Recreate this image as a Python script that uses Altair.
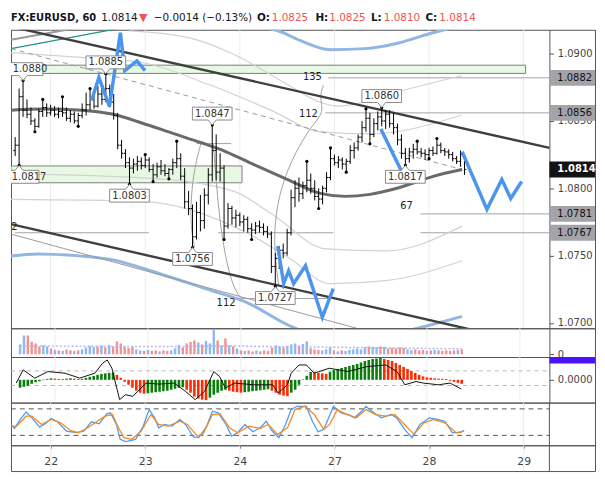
import altair as alt
import numpy as np
import pandas as pd

FONT = "DejaVu Sans"

# ------------------------------------------------------------------ data
hours = list(range(-9, 106))
opens = [1.0828, 1.0832, 1.0868, 1.0858, 1.0855, 1.0850, 1.0846, 1.0857, 1.0860,
         1.0856, 1.0858, 1.0855, 1.0857, 1.0856, 1.0852, 1.0855, 1.0850, 1.0854, 1.0858,
         1.0862, 1.0866, 1.0861, 1.0870, 1.0866, 1.0874, 1.0864, 1.0854, 1.0832, 1.0826,
         1.0819, 1.0815, 1.0818, 1.0820, 1.0817, 1.0821, 1.0814, 1.0810, 1.0816, 1.0813,
         1.0811, 1.0814, 1.0819, 1.0822, 1.0809, 1.0790, 1.0785, 1.0764, 1.0782, 1.0776,
         1.0795, 1.0810, 1.0828, 1.0812, 1.0815, 1.0772, 1.0785, 1.0778, 1.0780, 1.0775,
         1.0777, 1.0770, 1.0769, 1.0772, 1.0771, 1.0768, 1.0766, 1.0742, 1.0748, 1.0754,
         1.0752, 1.0767, 1.0793, 1.0800, 1.0796, 1.0802, 1.0806, 1.0800, 1.0794, 1.0792,
         1.0800, 1.0808, 1.0822, 1.0819, 1.0821, 1.0818, 1.0820, 1.0828, 1.0830, 1.0838,
         1.0845, 1.0852, 1.0840, 1.0848, 1.0853, 1.0850, 1.0855, 1.0848, 1.0845, 1.0836,
         1.0826, 1.0822, 1.0827, 1.0829, 1.0827, 1.0826, 1.0825, 1.0828, 1.0826, 1.0832,
         1.0828, 1.0827, 1.0825, 1.0822, 1.0820, 1.0825]
highs = [1.0838, 1.0874, 1.0880, 1.0866, 1.0860, 1.0852, 1.0859, 1.0866, 1.0863,
         1.0862, 1.0861, 1.0860, 1.0868, 1.0860, 1.0858, 1.0857, 1.0856, 1.0863, 1.0871,
         1.0874, 1.0872, 1.0876, 1.0878, 1.0885, 1.0877, 1.0870, 1.0856, 1.0836, 1.0829,
         1.0823, 1.0822, 1.0824, 1.0823, 1.0825, 1.0823, 1.0818, 1.0819, 1.0821, 1.0818,
         1.0815, 1.0822, 1.0835, 1.0826, 1.0815, 1.0798, 1.0788, 1.0790, 1.0795, 1.0800,
         1.0815, 1.0847, 1.0840, 1.0826, 1.0817, 1.0789, 1.0787, 1.0784, 1.0782, 1.0780,
         1.0779, 1.0774, 1.0775, 1.0776, 1.0774, 1.0772, 1.0768, 1.0752, 1.0757, 1.0759,
         1.0770, 1.0799, 1.0806, 1.0808, 1.0805, 1.0820, 1.0811, 1.0806, 1.0800, 1.0802,
         1.0812, 1.0830, 1.0825, 1.0824, 1.0823, 1.0822, 1.0832, 1.0834, 1.0840, 1.0850,
         1.0859, 1.0856, 1.0852, 1.0857, 1.0860, 1.0858, 1.0858, 1.0856, 1.0848, 1.0840,
         1.0830, 1.0830, 1.0833, 1.0835, 1.0830, 1.0829, 1.0830, 1.0831, 1.0837, 1.0834,
         1.0830, 1.0829, 1.0827, 1.0824, 1.0828, 1.0825]
lows = [1.0824, 1.0817, 1.0853, 1.0852, 1.0847, 1.0842, 1.0845, 1.0853, 1.0853,
        1.0854, 1.0853, 1.0852, 1.0853, 1.0850, 1.0849, 1.0848, 1.0846, 1.0852, 1.0854,
        1.0858, 1.0859, 1.0860, 1.0862, 1.0864, 1.0860, 1.0851, 1.0829, 1.0822, 1.0815,
        1.0803, 1.0811, 1.0813, 1.0814, 1.0815, 1.0812, 1.0805, 1.0808, 1.0810, 1.0809,
        1.0807, 1.0810, 1.0815, 1.0806, 1.0785, 1.0780, 1.0756, 1.0762, 1.0768, 1.0770,
        1.0788, 1.0805, 1.0806, 1.0805, 1.0762, 1.0770, 1.0773, 1.0771, 1.0772, 1.0768,
        1.0767, 1.0762, 1.0766, 1.0767, 1.0765, 1.0763, 1.0737, 1.0727, 1.0740, 1.0748,
        1.0750, 1.0765, 1.0786, 1.0790, 1.0792, 1.0797, 1.0796, 1.0791, 1.0785, 1.0788,
        1.0797, 1.0806, 1.0817, 1.0815, 1.0814, 1.0812, 1.0818, 1.0822, 1.0828, 1.0834,
        1.0842, 1.0833, 1.0838, 1.0843, 1.0846, 1.0844, 1.0845, 1.0840, 1.0832, 1.0822,
        1.0817, 1.0819, 1.0822, 1.0825, 1.0823, 1.0821, 1.0822, 1.0824, 1.0825, 1.0826,
        1.0824, 1.0822, 1.0820, 1.0818, 1.0816, 1.0810]
closes = [1.0832, 1.0868, 1.0858, 1.0855, 1.0850, 1.0846, 1.0857, 1.0860, 1.0856,
          1.0858, 1.0855, 1.0857, 1.0856, 1.0852, 1.0855, 1.0850, 1.0854, 1.0858, 1.0862,
          1.0866, 1.0861, 1.0870, 1.0866, 1.0874, 1.0864, 1.0854, 1.0832, 1.0826, 1.0819,
          1.0815, 1.0818, 1.0820, 1.0817, 1.0821, 1.0814, 1.0810, 1.0816, 1.0813, 1.0811,
          1.0814, 1.0819, 1.0822, 1.0809, 1.0790, 1.0785, 1.0764, 1.0782, 1.0776, 1.0795,
          1.0810, 1.0828, 1.0812, 1.0815, 1.0772, 1.0785, 1.0778, 1.0780, 1.0775, 1.0777,
          1.0770, 1.0769, 1.0772, 1.0771, 1.0768, 1.0766, 1.0742, 1.0748, 1.0754, 1.0752,
          1.0767, 1.0793, 1.0800, 1.0796, 1.0802, 1.0806, 1.0800, 1.0794, 1.0792, 1.0800,
          1.0808, 1.0822, 1.0819, 1.0821, 1.0818, 1.0820, 1.0828, 1.0830, 1.0838, 1.0845,
          1.0852, 1.0840, 1.0848, 1.0853, 1.0850, 1.0855, 1.0848, 1.0845, 1.0836, 1.0826,
          1.0822, 1.0827, 1.0829, 1.0827, 1.0826, 1.0825, 1.0828, 1.0826, 1.0832, 1.0828,
          1.0827, 1.0825, 1.0822, 1.0820, 1.0825, 1.0814]
volume = [10, 19, 19, 12.7, 11, 8, 9, 8, 6,
          4.5, 4, 3.5, 5, 4, 3.5, 4, 5, 7, 8.5,
          7.5, 8, 9, 7, 9.5, 8, 13, 11, 8, 6.5,
          7.5, 5, 4, 3.5, 4.5, 3.5, 4, 3, 4, 3.5,
          4, 6, 9.5, 7, 11, 12.5, 14, 12, 10, 13.5,
          11, 25, 14, 9, 16, 9, 8, 6, 4, 3.5,
          4, 3, 4, 3, 4, 3.5, 7, 9, 8, 7,
          8.5, 10, 11, 9, 10.5, 13, 6, 5, 4.5, 4,
          5, 7, 4, 3, 4, 3.5, 4.5, 5, 6, 5,
          7, 8, 7.5, 7, 8, 7.5, 6, 6.5, 6, 7,
          6.5, 5, 4.5, 5, 4, 4.5, 3.5, 4, 4.5, 4,
          3.5, 4, 3.5, 4, 4.5, 5]
macd_hist = [-8, -7, -6, -4, -2.5, -1.5, -0.5, 0.8, 1.5,
             1.2, 1.0, 0.8, 1.2, 1.5, 1.2, 0.8, 1.0, 2, 3,
             4, 5, 6, 6.5, 7, 7.5, 5, 2, -2, -5,
             -8, -11, -13, -14, -13.5, -13, -12.5, -12, -11.5, -11,
             -10, -9, -8, -7.5, -10, -13, -17, -19, -20, -20.5,
             -18, -15, -13, -11, -10, -11, -12, -12.5, -13, -12.5,
             -12, -11.5, -11, -10.5, -10, -9.5, -11, -13, -15, -16,
             -16.5, -13, -10, -5, 0.5, 4, 8, 7.5, 7, 6.5,
             6, 8, 10, 11, 12, 13, 14, 15, 16, 17.5,
             19, 20, 21, 21.5, 22, 21, 20, 19, 17, 15,
             13, 11, 9, 7, 5, 3.5, 2.5, 2, 1.5, 1.2,
             1, 0.8, -1, -2, -3, -4]

day_h = [0, 24, 48, 72, 96, 120]
day_labels = ["22", "23", "24", "27", "28", "29"]

frac_high_h = [-7, -2, 3, 10, 14, 24, 32, 41, 65, 71, 80, 84, 93, 98]
frac_low_h = [-8, -4, 7, 20, 26, 30, 36, 44, 51, 57, 68, 75, 81, 90, 96]
label_high_h = [-7, 14, 41, 84]
label_low_h = [-8, 20, 36, 57, 90]

ma_h = [-10.06, -2.01, 8.05, 15.6, 23.14, 30.69, 38.24, 44.53, 51.57, 60.13, 68.43, 74.72, 81.01, 88.55, 96.86, 104.4]
ma_p = [1.08580, 1.08588, 1.08580, 1.08551, 1.08485, 1.08411, 1.08338, 1.08271, 1.08176,
        1.08065, 1.07962, 1.07940, 1.07955, 1.08006, 1.08087, 1.08139]

band_up2_h = [19.87, 34.97, 46.54, 58.36, 68.43, 72.70, 89.43, 104.4]
band_up2_p = [1.09169, 1.09118, 1.08993, 1.08801, 1.08639, 1.08610, 1.08728, 1.08838]
band_up1_h = [-10.06, 4.78, 23.14, 40.0, 55.85, 68.43, 81.01, 104.4]
band_up1_p = [1.09007, 1.08978, 1.08934, 1.08772, 1.08580, 1.08419, 1.08404, 1.08544]
band_lo1_h = [-10.06, 25.66, 46.54, 55.85, 69.94, 85.03, 104.4]
band_lo1_p = [1.08109, 1.08073, 1.07977, 1.07815, 1.07550, 1.07535, 1.07719]
band_lo2_h = [-10.06, 23.14, 49.81, 60.88, 70.94, 85.03, 104.4]
band_lo2_p = [1.07918, 1.07903, 1.07668, 1.07476, 1.07292, 1.07314, 1.07462]

blue_top_h = [53.84, 58.36, 63.40, 70.94, 79.75, 88.55, 96.10, 103.14]
blue_top_p = [1.09199, 1.09162, 1.09096, 1.09029, 1.09037, 1.09081, 1.09147, 1.09199]
blue_bot_h = [-10.06, -3.27, 14.34, 27.67, 39.25, 49.81, 60.38, 63.40]
blue_bot_p = [1.07498, 1.07513, 1.07476, 1.07366, 1.07255, 1.07152, 1.06983, 1.06946]
blue_bot2_h = [91.07, 96.10, 104.4]
blue_bot2_p = [1.06946, 1.06983, 1.07049]

zig1_h = [10.39, 12.24, 14.92, 17.69, 18.80, 21.89, 23.97]
zig1_p = [1.08652, 1.08823, 1.08608, 1.09155, 1.08873, 1.08946, 1.08873]
zig2_h = [57.61, 59.12, 60.38, 61.64, 64.65, 68.93, 71.70]
zig2_p = [1.07572, 1.07292, 1.07388, 1.07292, 1.07425, 1.07042, 1.07255]
zig3_h = [83.77, 89.06]
zig3_p = [1.08441, 1.08124]
zig4_h = [104.4, 110.69, 114.47, 116.73, 119.50]
zig4_p = [1.08271, 1.07844, 1.08065, 1.07925, 1.08050]

upper_h = [-10.06, 126.54]
upper_p = [1.09200, 1.08300]
lower_h = [-10.06, 106.2]
lower_p = [1.07734, 1.06954]
thinlow_h = [-10.06, 78.5]
thinlow_p = [1.07660, 1.06954]
dash_h = [-10.06, 104.4]
dash_p = [1.09037, 1.08139]
tlgray_h = [-10.06, 6.79]
tlgray_p = [1.09103, 1.09191]
teal_h = [-10.06, 18.1]
teal_p = [1.09037, 1.09191]

arcA_h = [38.24, 36.23, 35.47, 35.72, 36.48]
arcA_p = [1.08345, 1.08124, 1.07866, 1.07682, 1.07565]
arcB_h = [41.26, 42.01, 43.02, 44.78, 46.54, 48.30]
arcB_p = [1.08330, 1.08050, 1.07719, 1.07425, 1.07255, 1.07182]
arcC_h = [69.18, 68.18, 69.43, 66.42, 62.89, 60.13, 57.86, 56.60, 57.11, 57.86]
arcC_p = [1.08764, 1.08676, 1.08566, 1.08470, 1.08308, 1.08139, 1.07940, 1.07682, 1.07447, 1.07278]

level_p = [1.0882, 1.0856, 1.0781, 1.0767, 1.0767, 1.0767, 1.07182, 1.08332]
level_h1 = [70.44, 69.69, 93.84, -9.06, 42.5, 93.84, 48.30, 36.98]
level_h2 = [126.54, 126.54, 126.54, 24.9, 71.7, 126.54, 70.94, 45.79]

zone_h1 = [-10.06, -10.06]
zone_h2 = [120.5, 48.55]
zone_p1 = [1.08914, 1.08166]
zone_p2 = [1.08853, 1.08041]

ann_t = ["135", "112", "112", "67", "2"]
ann_h = [66.4, 65.4, 44.5, 90.3, -9.2]
ann_p = [1.08823, 1.08551, 1.07152, 1.07866, 1.07712]

price_ticks = [1.07, 1.075, 1.08, 1.085, 1.09]
axis_box_p = [1.0882, 1.0856, 1.0781, 1.0767]
last_price = 1.0814

vma_h = [-9, 5, 20, 35, 45, 55, 65, 80, 95, 105]
vma_v = [8.5, 8.2, 7.8, 8.0, 8.6, 7.8, 7.5, 6.8, 6.0, 5.5]

sig_h = [-10, -8.2, -5.2, -1.8, 2.6, 6.4, 10.3, 12.3, 13.5, 14.7, 16.7, 18.2, 20.1, 23.5,
         26.9, 30.8, 33.7, 36.2, 38.6, 41, 42.5, 44, 46.4, 51.3, 56.2, 57.6, 60, 61, 63,
         64.9, 66.9, 70.8, 75.6, 80.5, 85.4, 88.3, 90.3, 93.2, 95.1, 99, 102, 104.9]
sig_v = [-3.3, 10, 1.7, 8.3, 6.7, 1.7, 6.7, 16.7, 20, 11.7, -20, -15, -16.7, -3.3,
         -4.3, -3.3, -11.7, -20, -11.7, 8.3, 3.3, -8.3, -3.3, -5, -5, -13.3, -5, 6.7, 15,
         15, 6.7, 11.7, 8.3, 13.3, 15, 8.3, -5, -1.7, -3.3, -5, -3.3, -9.3]
macd_levels = [9, -5.7]
macd_box = [23, 16.5]

k_h = [-10, -9.15, -7.7, -6.2, -4.75, -2.8, -1.35, 0.1, 1.6, 4.0,
       6.45, 8.4, 10.35, 12.3, 14.25, 15.2, 16.7, 17.65, 19.1, 21.55,
       23.5, 25.0, 26.4, 27.4, 28.9, 30.8, 32.8, 34.2, 36.2, 37.6,
       39.6, 41.05, 42.5, 44.5, 45.9, 47.4, 49.3, 51.3, 53.2, 54.7,
       56.2, 57.9, 59.6, 61.0, 62.5, 64.9, 66.4, 67.85, 69.3, 71.75,
       73.7, 75.6, 77.1, 79.1, 80.0, 81.5, 83.9, 86.4, 87.8, 89.8,
       91.7, 93.7, 96.1, 98.1, 100.0, 101.9, 103.9, 104.9]
k_v = [44.7, 35.7, 56, 73, 59.7, 38.7, 46.2, 58.2, 52, 29.7,
       26, 29.7, 50.7, 46.2, 68.7, 71, 44.7, 11, 5.8, 11,
       41, 78.4, 59.7, 37.2, 44.7, 41, 56, 44.7, 16.3, 14.8,
       41, 74.7, 71, 44.7, 18.5, 26, 44.7, 28.2, 37.2, 52,
       29.7, 14.8, 44.7, 78.4, 85.9, 85.9, 52, 28.2, 33.5, 85.9,
       71, 67.2, 59.7, 76.2, 85.9, 74.7, 59.7, 67.2, 59.7, 33.5,
       14.8, 44.7, 59.7, 56, 52, 26, 26, 31.2]
d_h = [-10, -8.65, -6.2, -4.75, -2.3, 0.1, 2.55, 5.0, 6.95, 9.4,
       11.3, 13.8, 15.7, 17.2, 18.6, 20.6, 23.0, 25.45, 27.4, 29.8,
       32.8, 34.7, 37.2, 38.6, 41.05, 43.0, 45.4, 47.4, 50.3, 53.2,
       55.2, 57.6, 60.1, 62.0, 64.4, 66.9, 69.3, 70.8, 72.7, 75.2,
       77.6, 80.0, 82.5, 84.9, 87.3, 89.8, 92.2, 94.7, 97.1, 100.0,
       102.9, 104.9]
d_v = [41, 41, 63.4, 63.4, 44.7, 56, 48.5, 31.2, 26, 37.2,
       48.5, 63.4, 67.2, 37.2, 14.8, 11, 29.7, 67.2, 44.7, 41,
       52, 44.7, 18.5, 22.2, 67.2, 68.7, 37.2, 26, 41, 35.7,
       44.7, 22.2, 37.2, 78.4, 85.9, 67.2, 33.5, 44.7, 78.4, 67.2,
       59.7, 78.4, 67.2, 63.4, 67.2, 44.7, 22.2, 48.5, 56, 48.5,
       26, 29.7]
stoch_levels = [20, 80]

header_pieces = ["FX:EURUSD, 60", "1.0814", "\u25bc", "\u22120.0014 (\u22120.13%)",
                 "O:", "1.0825", "H:", "1.0825", "L:", "1.0810", "C:", "1.0814"]

# ------------------------------------------------------------------ layout / style
W = 589
X_DOMAIN = [-10.063, -10.063 + W / 3.975]
AX_X = 543  # pixel position of the price axis inside each panel
BOXW = W - AX_X
xs = alt.Scale(domain=X_DOMAIN, nice=False, zero=False)

header_x = [0, 91, 129, 144, 248, 263, 307, 321, 363, 376, 418, 432]
header_size = [10, 10.5, 11, 10.5, 10.5, 10.5, 10.5, 10.5, 10.5, 10.5, 10.5, 10.5]
header_col = ["#131722", "#131722", "#ef5350", "#131722", "#131722", "#ef5350",
              "#131722", "#ef5350", "#131722", "#ef5350", "#131722", "#ef5350"]
header_bold = [True, False, False, False, True, False, True, False, True, False, True, False]
edge_dx = {-7: 7, -8: 10}   # nudge for labels that touch the left frame


def X(field="h", axis=None):
    return alt.X(f"{field}:Q", scale=xs, axis=axis)


ys_main = alt.Scale(domain=[1.069610, 1.091767], nice=False, zero=False)
ax_main = alt.Axis(orient="right", offset=AX_X - W, values=price_ticks, format=".4f",
                   grid=False, domainColor="#555", tickColor="#555", tickSize=4,
                   labelColor="#444", labelFont=FONT, labelFontSize=10, labelPadding=4,
                   title=None, labelFlush=False, labelOverlap=False)


def YM(field):
    return alt.Y(f"{field}:Q", scale=ys_main, axis=ax_main)


def poly(hs, ps, sid):
    return pd.DataFrame({"h": hs, "p": ps, "i": list(range(len(hs))), "s": sid})


def pline(df, **kw):
    return alt.Chart(df).mark_line(clip=True, **kw).encode(x=X(), y=YM("p"), detail="s:N", order="i:Q")


bars = pd.DataFrame({"h": hours, "o": opens, "hi": highs, "lo": lows, "c": closes,
                     "vol": volume, "macd": macd_hist})
bars["hl"] = bars["h"] - 0.45
bars["hr"] = bars["h"] + 0.45
bars["z"] = 0.0
bars["dir"] = np.where(bars["c"] >= bars["o"], "up", "down")
bars["mdir"] = np.where(bars["macd"].diff().fillna(1) >= 0, "rise", "fall")

days_df = pd.DataFrame({"h": day_h, "lab": day_labels})
one_df = pd.DataFrame({"k": [0]})

# ---------------- main panel
L = []
L.append(alt.Chart(days_df).mark_rule(color="#ececec", strokeWidth=1, clip=True).encode(x=X()))
zones = pd.DataFrame({"h1": zone_h1, "h2": zone_h2, "p1": zone_p1, "p2": zone_p2})
L.append(alt.Chart(zones).mark_rect(fill="#e7f9e3", stroke="#7d7d7d", strokeWidth=1, clip=True).encode(
    x=X("h1"), x2="h2:Q", y=YM("p1"), y2="p2:Q"))
levels = pd.DataFrame({"h1": level_h1, "h2": level_h2, "p": level_p})
L.append(alt.Chart(levels).mark_rule(color="#a3a3a3", strokeWidth=1, clip=True).encode(
    x=X("h1"), x2="h2:Q", y=YM("p")))
bands = pd.concat([poly(band_up2_h, band_up2_p, "u2"), poly(band_up1_h, band_up1_p, "u1"),
                   poly(band_lo1_h, band_lo1_p, "l1"), poly(band_lo2_h, band_lo2_p, "l2")])
L.append(pline(bands, color="#d2d2d2", strokeWidth=1.2, interpolate="monotone"))
blues = pd.concat([poly(blue_top_h, blue_top_p, "bt"), poly(blue_bot_h, blue_bot_p, "bb"),
                   poly(blue_bot2_h, blue_bot2_p, "bb2")])
L.append(pline(blues, color="#93b5e2", strokeWidth=3, interpolate="monotone"))
arcs = pd.concat([poly(arcA_h, arcA_p, "a"), poly(arcB_h, arcB_p, "b"), poly(arcC_h, arcC_p, "c")])
L.append(pline(arcs, color="#a0a0a0", strokeWidth=1, interpolate="basis"))
L.append(pline(poly(dash_h, dash_p, "d"), color="#9a9a9a", strokeWidth=1, strokeDash=[5, 4]))
L.append(pline(poly(ma_h, ma_p, "ma"), color="#6a6a6a", strokeWidth=3, interpolate="monotone"))
L.append(pline(poly(tlgray_h, tlgray_p, "g"), color="#9a9a9a", strokeWidth=2))
L.append(pline(poly(teal_h, teal_p, "t"), color="#22958a", strokeWidth=1.3))
L.append(pline(poly(thinlow_h, thinlow_p, "tl"), color="#9a9a9a", strokeWidth=1))
trends = pd.concat([poly(upper_h, upper_p, "up"), poly(lower_h, lower_p, "lo")])
L.append(pline(trends, color="#3f3f3f", strokeWidth=2.4))
# OHLC bars
L.append(alt.Chart(bars).mark_rule(color="#000", strokeWidth=1, clip=True).encode(x=X(), y=YM("lo"), y2="hi:Q"))
L.append(alt.Chart(bars).mark_rule(color="#000", strokeWidth=1, clip=True).encode(x=X("hl"), x2="h:Q", y=YM("o")))
L.append(alt.Chart(bars).mark_rule(color="#000", strokeWidth=1, clip=True).encode(x=X("h"), x2="hr:Q", y=YM("c")))
fr_hi = bars[bars["h"].isin(frac_high_h)][["h", "hi"]].rename(columns={"hi": "p"})
fr_lo = bars[bars["h"].isin(frac_low_h)][["h", "lo"]].rename(columns={"lo": "p"})
L.append(alt.Chart(pd.concat([fr_hi, fr_lo])).mark_circle(size=10, color="#000", opacity=1, clip=True).encode(
    x=X(), y=YM("p")))
zigs = pd.concat([poly(zig1_h, zig1_p, "z1"), poly(zig2_h, zig2_p, "z2"),
                  poly(zig3_h, zig3_p, "z3"), poly(zig4_h, zig4_p, "z4")])
L.append(pline(zigs, color="#4c95ee", strokeWidth=3.5, strokeJoin="miter", strokeMiterLimit=4))
# extreme labels
BOX_HIGH = "M-1,-0.9L1,-0.9L1,-0.25L0.2,-0.25L0,0L-0.2,-0.25L-1,-0.25Z"
BOX_LOW = "M-1,0.9L1,0.9L1,0.25L0.2,0.25L0,0L-0.2,0.25L-1,0.25Z"
lab_hi = bars[bars["h"].isin(label_high_h)][["h", "hi"]].rename(columns={"hi": "p"})
lab_lo = bars[bars["h"].isin(label_low_h)][["h", "lo"]].rename(columns={"lo": "p"})
lab_hi["t"] = lab_hi["p"].map("{:.4f}".format)
lab_lo["t"] = lab_lo["p"].map("{:.4f}".format)
for df, shape, dy in [(lab_hi, BOX_HIGH, -11.5), (lab_lo, BOX_LOW, 11.5)]:
    L.append(alt.Chart(df).mark_point(shape=shape, size=1600, filled=True, fill="#ffffff",
                                      stroke="#8a8a8a", strokeWidth=1, opacity=1, clip=True).encode(
        x=X(), y=YM("p")))
    inner = df[~df["h"].isin(list(edge_dx))]
    L.append(alt.Chart(inner).mark_text(font=FONT, fontSize=10, color="#333", dy=dy,
                                        baseline="middle", clip=True).encode(x=X(), y=YM("p"), text="t:N"))
    for hv, ddx in edge_dx.items():
        edge = df[df["h"] == hv]
        if len(edge):
            L.append(alt.Chart(edge).mark_text(font=FONT, fontSize=10, color="#333", dy=dy, dx=ddx,
                                               baseline="middle", clip=True).encode(
                x=X(), y=YM("p"), text="t:N"))
ann = pd.DataFrame({"h": ann_h, "p": ann_p, "t": ann_t})
L.append(alt.Chart(ann).mark_text(font=FONT, fontSize=10, color="#222", baseline="middle", clip=True).encode(
    x=X(), y=YM("p"), text="t:N"))
# axis price boxes
AXBOX = "M-1,-0.348L1,-0.348L1,0.348L-1,0.348Z"
abox = pd.DataFrame({"p": axis_box_p})
abox["t"] = abox["p"].map("{:.4f}".format)
L.append(alt.Chart(abox).mark_point(shape=AXBOX, size=BOXW * BOXW, filled=True, fill="#a3a3a9",
                                    strokeWidth=0, opacity=1).encode(
    x=alt.value(AX_X + BOXW / 2), y=YM("p")))
L.append(alt.Chart(abox).mark_text(font=FONT, fontSize=10, color="#111", align="left",
                                   baseline="middle").encode(
    x=alt.value(AX_X + 8), y=YM("p"), text="t:N"))
lbox = pd.DataFrame({"p": [last_price]})
lbox["t"] = lbox["p"].map("{:.4f}".format)
L.append(alt.Chart(lbox).mark_point(shape=AXBOX, size=BOXW * BOXW, filled=True, fill="#131313",
                                    strokeWidth=0, opacity=1).encode(
    x=alt.value(AX_X + BOXW / 2), y=YM("p")))
L.append(alt.Chart(lbox).mark_text(font=FONT, fontSize=10, color="#fff", fontWeight="bold",
                                   align="left", baseline="middle").encode(
    x=alt.value(AX_X + 8), y=YM("p"), text="t:N"))
main = alt.layer(*L).properties(width=W, height=301)

# ---------------- volume panel
ys_vol = alt.Scale(domain=[-2.7, 26.3], nice=False, zero=False)
ax_vol = alt.Axis(orient="right", offset=AX_X - W, values=[0], format="d", grid=False,
                  domainColor="#555", tickColor="#555", tickSize=4, labelColor="#444",
                  labelFont=FONT, labelFontSize=10, labelPadding=4, title=None)
vol = alt.layer(
    alt.Chart(days_df).mark_rule(color="#ececec").encode(x=X()),
    alt.Chart(bars).mark_bar(size=2.4).encode(
        x=X(), y=alt.Y("vol:Q", scale=ys_vol, axis=ax_vol), y2="z:Q",
        color=alt.Color("dir:N", scale=alt.Scale(domain=["up", "down"], range=["#8cb9f2", "#f2918d"]),
                        legend=None)),
    alt.Chart(poly(vma_h, vma_v, "v")).mark_line(color="#b6b6f2", strokeWidth=1.5, strokeDash=[2, 2]).encode(
        x=X(), y=alt.Y("p:Q", scale=ys_vol, axis=ax_vol), order="i:Q"),
).properties(width=W, height=29)

# ---------------- MACD panel
ys_m = alt.Scale(domain=[-23, 23], nice=False, zero=False)
ax_m = alt.Axis(orient="right", offset=AX_X - W, values=[0], format=".4f", grid=False,
                domainColor="#555", tickColor="#555", tickSize=4, labelColor="#444",
                labelFont=FONT, labelFontSize=10, labelPadding=4, title=None)
macd = alt.layer(
    alt.Chart(days_df).mark_rule(color="#ececec").encode(x=X()),
    alt.Chart(pd.DataFrame({"v": macd_levels})).mark_rule(color="#b5b5b5", strokeDash=[4, 4]).encode(
        x=alt.value(0), x2=alt.value(AX_X), y=alt.Y("v:Q", scale=ys_m, axis=ax_m)),
    alt.Chart(bars).mark_bar(size=2.6).encode(
        x=X(), y=alt.Y("macd:Q", scale=ys_m, axis=ax_m), y2="z:Q",
        color=alt.Color("mdir:N", scale=alt.Scale(domain=["rise", "fall"], range=["#0a7d0a", "#ff2a00"]),
                        legend=None)),
    alt.Chart(poly(sig_h, sig_v, "s")).mark_line(color="#111", strokeWidth=1).encode(
        x=X(), y=alt.Y("p:Q", scale=ys_m, axis=ax_m), order="i:Q"),
    alt.Chart(pd.DataFrame({"a": [macd_box[0]], "b": [macd_box[1]]})).mark_rect(color="#4a12ff").encode(
        x=alt.value(AX_X), x2=alt.value(W), y=alt.Y("a:Q", scale=ys_m, axis=ax_m), y2="b:Q"),
).properties(width=W, height=46)

# ---------------- stochastic panel
ys_s = alt.Scale(domain=[-2.5, 94.2], nice=False, zero=False)
stoch = alt.layer(
    alt.Chart(days_df).mark_rule(color="#ececec").encode(x=X()),
    alt.Chart(pd.DataFrame({"v": stoch_levels})).mark_rule(color="#555", strokeDash=[5, 4]).encode(
        x=alt.value(0), x2=alt.value(AX_X), y=alt.Y("v:Q", scale=ys_s, axis=None)),
    alt.Chart(poly(k_h, k_v, "k")).mark_line(color="#4a9ef7", strokeWidth=1.3).encode(
        x=X(), y=alt.Y("p:Q", scale=ys_s, axis=None), order="i:Q"),
    alt.Chart(poly(d_h, d_v, "d")).mark_line(color="#f7881f", strokeWidth=1.3).encode(
        x=X(), y=alt.Y("p:Q", scale=ys_s, axis=None), order="i:Q"),
    alt.Chart(one_df).mark_rule(color="#555").encode(x=alt.value(AX_X), y=alt.value(0), y2=alt.value(43)),
).properties(width=W, height=43)

# ---------------- time axis panel
lab_expr = f"'{day_labels[-1]}'"
for hv, lb in reversed(list(zip(day_h[:-1], day_labels[:-1]))):
    lab_expr = f"datum.value == {hv} ? '{lb}' : " + lab_expr
ax_time = alt.Axis(orient="bottom", offset=-26, values=day_h, labelExpr=lab_expr, tickSize=3,
                   tickColor="#555", domain=False, grid=False, labelColor="#444", labelFont=FONT,
                   labelFontSize=11, labelPadding=7, title=None)
xaxis = alt.layer(
    alt.Chart(days_df).mark_rule(color="#ececec").encode(x=X("h", axis=ax_time)),
    alt.Chart(one_df).mark_rule(color="#555").encode(x=alt.value(AX_X), y=alt.value(0), y2=alt.value(26)),
).properties(width=W, height=26)

# ---------------- header
H = []
for i, piece in enumerate(header_pieces):
    H.append(alt.Chart(pd.DataFrame({"t": [piece]})).mark_text(
        font=FONT, fontSize=header_size[i], color=header_col[i], align="left", baseline="alphabetic",
        fontWeight="bold" if header_bold[i] else "normal").encode(
        x=alt.value(header_x[i]), y=alt.value(10), text="t:N"))
header = alt.layer(*H).properties(width=W, height=19, view=alt.ViewBackground(stroke="transparent"))

chart = alt.vconcat(header, main, vol, macd, stoch, xaxis, spacing=0, bounds="flush").resolve_scale(
    x="independent", y="independent", color="independent"
).properties(padding=0).configure_view(stroke="#555", strokeWidth=1)

chart.save("out.html", embed_options={"renderer": "svg", "actions": False})
